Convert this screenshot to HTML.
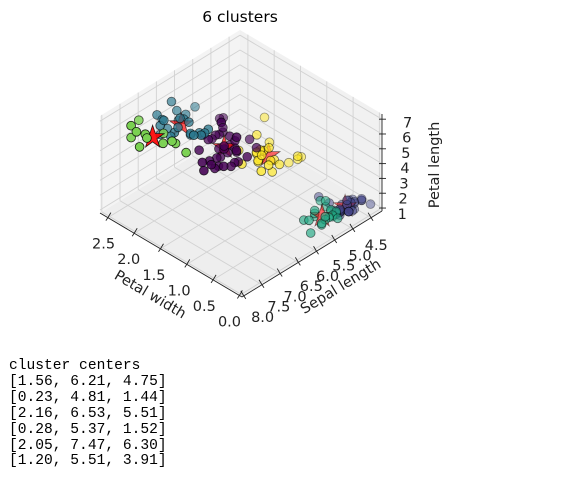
<!DOCTYPE html>
<html><head><meta charset="utf-8">
<style>
html,body{margin:0;padding:0;background:#fff;width:579px;height:495px;overflow:hidden;}
#chart{position:absolute;left:0;top:0;}
pre{position:absolute;left:9px;top:359px;margin:0;font-family:"Liberation Mono",monospace;font-size:14.6px;line-height:15.9px;color:#000;}
</style></head>
<body>
<svg id="chart" width="579" height="340" xmlns="http://www.w3.org/2000/svg" font-family="DejaVu Sans, Liberation Sans, sans-serif">
<text x="240" y="22" font-size="15.5" text-anchor="middle" fill="#000">6 clusters</text>
<g id="panes"></g><g id="grid"></g><g id="axes"></g><g id="marks"></g>
<text transform="translate(150,295) rotate(30.6)" font-size="14.5" text-anchor="middle" dominant-baseline="central" fill="#222">Petal width</text>
<text transform="translate(341,287) rotate(-31.5)" font-size="14.5" text-anchor="middle" dominant-baseline="central" fill="#222">Sepal length</text>
<text transform="translate(435,165) rotate(-90)" font-size="14.5" text-anchor="middle" dominant-baseline="central" fill="#222">Petal length</text>
</svg>
<pre>cluster centers
[1.56, 6.21, 4.75]
[0.23, 4.81, 1.44]
[2.16, 6.53, 5.51]
[0.28, 5.37, 1.52]
[2.05, 7.47, 6.30]
[1.20, 5.51, 3.91]</pre>
<script>
// iris data: petal width, sepal length, petal length
const petalWidth=[0.2,0.2,0.2,0.2,0.2,0.4,0.3,0.2,0.2,0.1,0.2,0.2,0.1,0.1,0.2,0.4,0.4,0.3,0.3,0.3,0.2,0.4,0.2,0.5,0.2,0.2,0.4,0.2,0.2,0.2,0.2,0.4,0.1,0.2,0.1,0.2,0.2,0.1,0.2,0.2,0.3,0.3,0.2,0.6,0.4,0.3,0.2,0.2,0.2,0.2,
1.4,1.5,1.5,1.3,1.5,1.3,1.6,1.0,1.3,1.4,1.0,1.5,1.0,1.4,1.3,1.4,1.5,1.0,1.5,1.1,1.8,1.3,1.5,1.2,1.3,1.4,1.4,1.7,1.5,1.0,1.1,1.0,1.2,1.6,1.5,1.6,1.5,1.3,1.3,1.3,1.2,1.4,1.2,1.0,1.3,1.2,1.3,1.3,1.1,1.3,
2.5,1.9,2.1,1.8,2.2,2.1,1.7,1.8,1.8,2.5,2.0,1.9,2.1,2.0,2.4,2.3,1.8,2.2,2.3,1.5,2.3,2.0,2.0,1.8,2.1,1.8,1.8,1.8,2.1,1.6,1.9,2.0,2.2,1.5,1.4,2.3,2.4,1.8,1.8,2.1,2.4,2.3,1.9,2.3,2.5,2.3,1.9,2.0,2.3,1.8];
const sepalLength=[5.1,4.9,4.7,4.6,5.0,5.4,4.6,5.0,4.4,4.9,5.4,4.8,4.8,4.3,5.8,5.7,5.4,5.1,5.7,5.1,5.4,5.1,4.6,5.1,4.8,5.0,5.0,5.2,5.2,4.7,4.8,5.4,5.2,5.5,4.9,5.0,5.5,4.9,4.4,5.1,5.0,4.5,4.4,5.0,5.1,4.8,5.1,4.6,5.3,5.0,
7.0,6.4,6.9,5.5,6.5,5.7,6.3,4.9,6.6,5.2,5.0,5.9,6.0,6.1,5.6,6.7,5.6,5.8,6.2,5.6,5.9,6.1,6.3,6.1,6.4,6.6,6.8,6.7,6.0,5.7,5.5,5.5,5.8,6.0,5.4,6.0,6.7,6.3,5.6,5.5,5.5,6.1,5.8,5.0,5.6,5.7,5.7,6.2,5.1,5.7,
6.3,5.8,7.1,6.3,6.5,7.6,4.9,7.3,6.7,7.2,6.5,6.4,6.8,5.7,5.8,6.4,6.5,7.7,7.7,6.0,6.9,5.6,7.7,6.3,6.7,7.2,6.2,6.1,6.4,7.2,7.4,7.9,6.4,6.3,6.1,7.7,6.3,6.4,6.0,6.9,6.7,6.9,5.8,6.8,6.7,6.7,6.3,6.5,6.2,5.9];
const petalLength=[1.4,1.4,1.3,1.5,1.4,1.7,1.4,1.5,1.4,1.5,1.5,1.6,1.4,1.1,1.2,1.5,1.3,1.4,1.7,1.5,1.7,1.5,1.0,1.7,1.9,1.6,1.6,1.5,1.4,1.6,1.6,1.5,1.5,1.4,1.5,1.2,1.3,1.5,1.3,1.5,1.3,1.3,1.3,1.6,1.9,1.4,1.6,1.4,1.5,1.4,
4.7,4.5,4.9,4.0,4.6,4.5,4.7,3.3,4.6,3.9,3.5,4.2,4.0,4.7,3.6,4.4,4.5,4.1,4.5,3.9,4.8,4.0,4.9,4.7,4.3,4.4,4.8,5.0,4.5,3.5,3.8,3.7,3.9,5.1,4.5,4.5,4.7,4.4,4.1,4.0,4.4,4.6,4.0,3.3,4.2,4.2,4.2,4.3,3.0,4.1,
6.0,5.1,5.9,5.6,5.8,6.6,4.5,6.3,5.8,6.1,5.1,5.3,5.5,5.0,5.1,5.3,5.5,6.7,6.9,5.0,5.7,4.9,6.7,4.9,5.7,6.0,4.8,4.9,5.6,5.8,6.1,6.4,5.6,5.1,5.6,6.1,5.6,5.5,4.8,5.4,5.6,5.1,5.1,5.9,5.7,5.2,5.0,5.2,5.4,5.1];
const centerPW=[1.56,0.23,2.16,0.28,2.05,1.20];
const centerSL=[6.21,4.81,6.53,5.37,7.47,5.51];
const centerPL=[4.75,1.44,5.51,1.52,6.30,3.91];
const pwTicks=[0.0,0.5,1.0,1.5,2.0,2.5];
const slTicks=[4.5,5.0,5.5,6.0,6.5,7.0,7.5,8.0];
const plTicks=[1,2,3,4,5,6,7];
const palette=['#440154','#414487','#2a788e','#22a884','#7ad151','#fde725'];

const NS='http://www.w3.org/2000/svg';
const F=[242,297],U=[-142,-84],V=[140,-86],W=[0,-97];
const pwMin=-0.05,pwMax=2.65,slMin=4.2,slMax=8.05,plMin=0.8,plMax=7.35;
function uOf(pw){return (pw-pwMin)/(pwMax-pwMin);}
function vOf(sl){return (slMax-sl)/(slMax-slMin);}
function wOf(pl){return (pl-plMin)/(plMax-plMin);}
function P(u,v,w){return [F[0]+u*U[0]+v*V[0]+w*W[0],F[1]+u*U[1]+v*V[1]+w*W[1]];}
function mk(tag,attrs,parent){const e=document.createElementNS(NS,tag);for(const k in attrs)e.setAttribute(k,attrs[k]);parent.appendChild(e);return e;}
function pts(a){return a.map(p=>p[0].toFixed(1)+','+p[1].toFixed(1)).join(' ');}

const panes=document.getElementById('panes');
let e;
e=mk('polygon',{points:pts([P(0,0,0),P(1,0,0),P(1,1,0),P(0,1,0)]),fill:'#eeeeee'},panes);


e=mk('polygon',{points:pts([P(1,0,0),P(1,1,0),P(1,1,1),P(1,0,1)]),fill:'#f4f4f4'},panes);


e=mk('polygon',{points:pts([P(0,1,0),P(1,1,0),P(1,1,1),P(0,1,1)]),fill:'#f1f1f1'},panes);



const grid=document.getElementById('grid');
function gl(a,b,name){const l=mk('line',{x1:a[0],y1:a[1],x2:b[0],y2:b[1],stroke:'#d2d2d2','stroke-width':0.9},grid);

}
pwTicks.forEach(t=>{const u=uOf(t);gl(P(u,0,0),P(u,1,0),'grid-pw');gl(P(u,1,0),P(u,1,1),'grid-pw');});
slTicks.forEach(t=>{const v=vOf(t);gl(P(0,v,0),P(1,v,0),'grid-sl');gl(P(1,v,0),P(1,v,1),'grid-sl');});
plTicks.forEach(t=>{const w=wOf(t);gl(P(1,0,w),P(1,1,w),'grid-pl');gl(P(0,1,w),P(1,1,w),'grid-pl');});

const axes=document.getElementById('axes');
function al(a,b,name){const l=mk('line',{x1:a[0],y1:a[1],x2:b[0],y2:b[1],stroke:'#222','stroke-width':0.9},axes);

}
al(P(0,0,0),P(1,0,0),'x-axis-line');
al(P(0,0,0),P(0,1,0),'y-axis-line');
al(P(0,1,0),P(0,1,1),'z-axis-line');
function tl(x,y,s,name){const t=mk('text',{x:x,y:y,'font-size':14.5,'text-anchor':'middle','dominant-baseline':'central',fill:'#222'},axes);t.textContent=s;

}
pwTicks.forEach(t=>{const u=uOf(t);const p=P(u,0,0);al(p,[p[0]+3,p[1]-5],'x-tick');al(p,[p[0]-2,p[1]+3],'x-tick');tl(p[0]-10+6*u,p[1]+27,t.toFixed(1),'x-tick-label');});
slTicks.forEach(t=>{const v=vOf(t);const p=P(0,v,0);al(p,[p[0]-3,p[1]-5],'y-tick');al(p,[p[0]+2,p[1]+3],'y-tick');tl(p[0]+19-15*v,p[1]+22+7*v,t.toFixed(1),'y-tick-label');});
plTicks.forEach(t=>{const w=wOf(t);const p=P(0,1,w);al([p[0]-3,p[1]],[p[0]+4,p[1]],'z-tick');tl(p[0]+20+6*w,p[1]+7-3*w,String(t),'z-tick-label');});

const items=[];
for(let i=0;i<petalWidth.length;i++){
  let best=0,bd=1e9;
  for(let c=0;c<centerPW.length;c++){const d=(petalWidth[i]-centerPW[c])**2+(sepalLength[i]-centerSL[c])**2+(petalLength[i]-centerPL[c])**2;if(d<bd){bd=d;best=c;}}
  const u=uOf(petalWidth[i]),v=vOf(sepalLength[i]),w=wOf(petalLength[i]);
  items.push({kind:'pt',u,v,w,color:palette[best],d:u+v-w});
}
for(let c=0;c<centerPW.length;c++){
  const u=uOf(centerPW[c]),v=vOf(centerSL[c]),w=wOf(centerPL[c]);
  items.push({kind:'star',u,v,w,color:'#ff0000',d:u+v-w+0.03});
}
const ds=items.map(o=>o.d);const dmin=Math.min(...ds),dmax=Math.max(...ds);
items.sort((a,b)=>b.d-a.d);
const marks=document.getElementById('marks');
items.forEach(o=>{
  const p=P(o.u,o.v,o.w);
  const a=1-0.6*(o.d-dmin)/(dmax-dmin);
  if(o.kind==='pt'){
    const c=mk('circle',{cx:p[0].toFixed(1),cy:p[1].toFixed(1),r:4.4,fill:o.color,'fill-opacity':Math.min(1,a+0.05).toFixed(2),stroke:'#000','stroke-opacity':(a*0.9).toFixed(2),'stroke-width':0.8},marks);
    
    
  }else{
    const s=[];for(let k=0;k<10;k++){const r=k%2?4.6:12;const ang=-Math.PI/2+k*Math.PI/5;s.push([p[0]+r*Math.cos(ang),p[1]+r*Math.sin(ang)]);}
    const st=mk('polygon',{points:pts(s),fill:o.color,'fill-opacity':Math.max(a,0.5).toFixed(2),stroke:'#000','stroke-opacity':(a*0.9).toFixed(2),'stroke-width':0.8},marks);
    
    
  }
});
</script>
</body></html>
